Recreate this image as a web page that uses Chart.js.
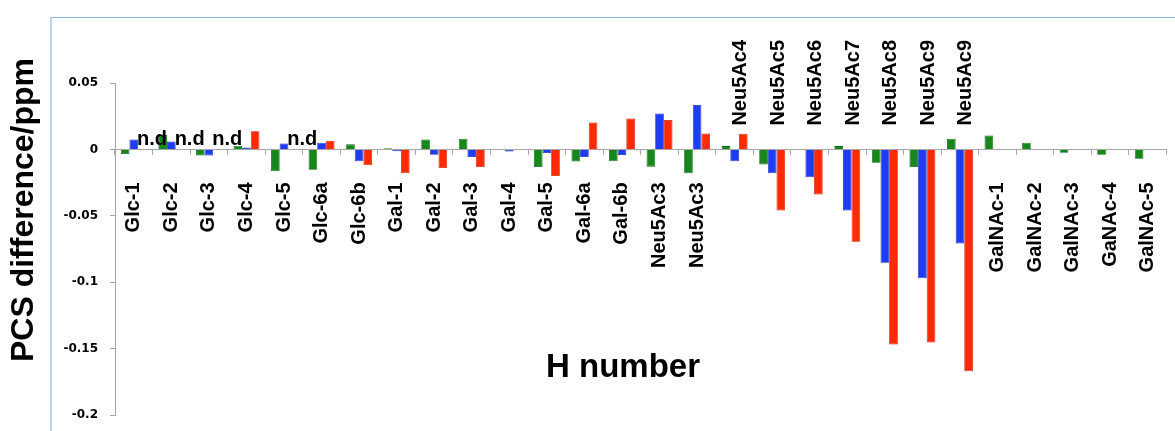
<!DOCTYPE html>
<html><head><meta charset="utf-8">
<script src="https://cdn.jsdelivr.net/npm/chart.js@4.4.1/dist/chart.umd.min.js"></script>
<style>
html,body{margin:0;padding:0;background:#fff;overflow:hidden;width:1175px;height:431px}
#wrap{position:relative;width:1200px;height:431px}
</style></head>
<body><div id="wrap"><canvas id="c" width="1200" height="431"></canvas></div>
<script>
const categories = ['Glc-1','Glc-2','Glc-3','Glc-4','Glc-5','Glc-6a','Glc-6b','Gal-1','Gal-2','Gal-3','Gal-4','Gal-5','Gal-6a','Gal-6b','Neu5Ac3','Neu5Ac3','Neu5Ac4','Neu5Ac5','Neu5Ac6','Neu5Ac7','Neu5Ac8','Neu5Ac9','Neu5Ac9','GalNAc-1','GalNAc-2','GalNAc-3','GaNAc-4','GalNAc-5'];
const greenValues = [-0.0035, 0.011, -0.0045, 0.0027, -0.0165, -0.0153, 0.0038, 0.0008, 0.0075, 0.008, -0.0005, -0.0133, -0.0092, -0.009, -0.013, -0.018, 0.0025, -0.0113, null, 0.0025, -0.010, -0.0133, 0.008, 0.0105, 0.005, -0.0025, -0.004, -0.007];
const blueValues = [0.0075, 0.006, -0.0045, 0.0015, 0.0045, 0.005, -0.009, -0.0013, -0.004, -0.0058, -0.0015, -0.0028, -0.0058, -0.0043, 0.027, 0.0334, -0.009, -0.018, -0.021, -0.046, -0.0853, -0.097, -0.0708, null, null, null, null, null];
const redValues = [null, null, null, 0.0137, null, 0.0065, -0.012, -0.018, -0.014, -0.0133, null, -0.020, 0.0203, 0.0233, 0.0221, 0.012, 0.0118, -0.046, -0.034, -0.0696, -0.147, -0.1454, -0.167, null, null, null, null, null];
const yTickValues = [0.05, 0, -0.05, -0.1, -0.15, -0.2];
const notDeterminedRed = [0, 1, 2, 4];
const labelsAboveAxis = [16, 17, 18, 19, 20, 21, 22];

const FONT = "'Liberation Sans', Arial, sans-serif";

const decorations = {
  id: 'decorations',
  beforeDraw(chart) {
    const ctx = chart.ctx;
    ctx.save();
    ctx.strokeStyle = '#93b4da';
    ctx.lineWidth = 1.2;
    ctx.beginPath();
    ctx.moveTo(51, 431);
    ctx.lineTo(51, 17.5);
    ctx.lineTo(1200, 17.5);
    ctx.stroke();
    ctx.restore();
  },
  afterDatasetsDraw(chart) {
    const ctx = chart.ctx;
    const meta = chart.getDatasetMeta(2);
    const y0 = chart.scales.y.getPixelForValue(0);
    ctx.save();
    ctx.font = 'bold 20px ' + FONT;
    ctx.fillStyle = '#000';
    ctx.textAlign = 'left';
    ctx.textBaseline = 'alphabetic';
    notDeterminedRed.forEach(i => {
      const el = meta.data[i];
      ctx.fillText('n.d', el.x - el.width / 2 - 1, y0 - 4);
    });
    ctx.restore();
  },
  afterDraw(chart) {
    const ctx = chart.ctx;
    ctx.save();
    ctx.fillStyle = '#000';
    ctx.textAlign = 'center';
    ctx.textBaseline = 'middle';
    ctx.font = 'bold 32px ' + FONT;
    ctx.translate(24, 210);
    ctx.rotate(-Math.PI / 2);
    ctx.fillText('PCS difference/ppm', 0, 0);
    ctx.restore();
    ctx.save();
    ctx.fillStyle = '#000';
    ctx.textAlign = 'center';
    ctx.textBaseline = 'middle';
    ctx.font = 'bold 33px ' + FONT;
    ctx.fillText('H number', 623, 368);
    ctx.restore();
  }
};

new Chart(document.getElementById('c'), {
  type: 'bar',
  data: {
    labels: categories,
    datasets: [
      { label: 'green', data: greenValues, backgroundColor: '#15871b', borderColor: '#0d6612', borderWidth: 0.8 },
      { label: 'blue', data: blueValues, backgroundColor: '#1e3df3', borderColor: '#1229b8', borderWidth: 0.8 },
      { label: 'red', data: redValues, backgroundColor: '#fd2a05', borderColor: '#c81e00', borderWidth: 0.8 }
    ]
  },
  options: {
    responsive: false,
    animation: false,
    devicePixelRatio: 1,
    layout: { padding: { left: 0, top: 83, right: 15, bottom: 16 } },
    datasets: { bar: { categoryPercentage: 0.69, barPercentage: 1.0 } },
    plugins: { legend: { display: false }, tooltip: { enabled: false } },
    scales: {
      y: {
        min: -0.2, max: 0.05,
        afterBuildTicks: s => { s.ticks = yTickValues.map(v => ({ value: v })); },
        afterFit: s => { s.width = 115; s.paddingTop = 0; s.paddingBottom = 0; },
        border: { display: true, color: '#a6a6a6', width: 1 },
        grid: { drawOnChartArea: false, drawTicks: true, tickLength: 5, color: '#a6a6a6' },
        ticks: {
          padding: 12, color: '#000',
          font: { family: "'DejaVu Sans', Verdana, sans-serif", size: 12, weight: 'bold' },
          callback: v => String(Number(Number(v).toFixed(2)))
        }
      },
      x: {
        type: 'category',
        position: { y: 0 },
        offset: true,
        border: { display: true, color: '#a6a6a6', width: 1 },
        grid: { offset: true, drawOnChartArea: false, drawTicks: true, tickLength: 5, color: '#a6a6a6' },
        ticks: {
          autoSkip: false, minRotation: 90, maxRotation: 90, padding: 28, color: '#000',
          font: { family: FONT, size: 20, weight: 'bold' },
          callback: function (v, i) { return labelsAboveAxis.includes(i) ? '' : this.getLabelForValue(v); }
        }
      },
      x2: {
        type: 'category',
        labels: categories,
        position: { y: 0.0824 },
        offset: true,
        border: { display: false },
        grid: { display: false, drawTicks: false },
        ticks: {
          autoSkip: false, minRotation: 90, maxRotation: 90, padding: 0, labelOffset: 6, color: '#000',
          font: { family: FONT, size: 20, weight: 'bold' },
          callback: function (v, i) { return labelsAboveAxis.includes(i) ? this.getLabelForValue(v) : ''; }
        }
      }
    }
  },
  plugins: [decorations]
});
</script>
</body></html>
